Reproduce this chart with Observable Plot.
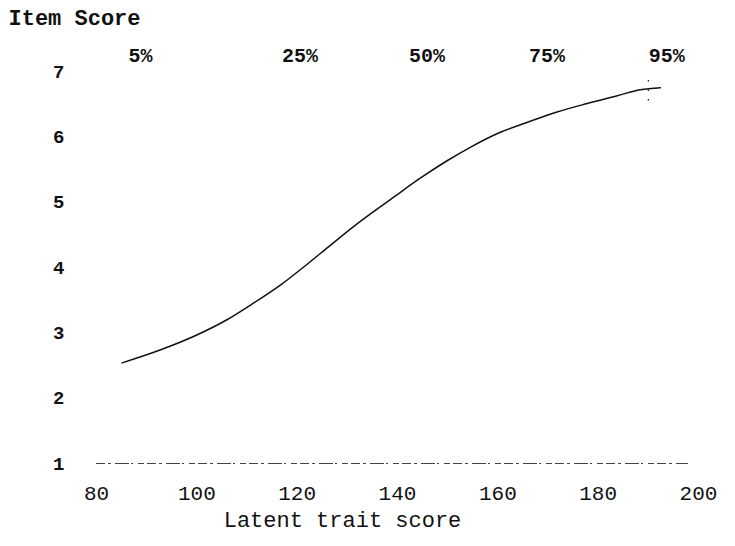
<!DOCTYPE html>
<html>
<head>
<meta charset="utf-8">
<script src="https://cdn.jsdelivr.net/npm/d3@7"></script>
<script src="https://cdn.jsdelivr.net/npm/@observablehq/plot@0.6"></script>
<style>
  html, body { margin: 0; padding: 0; background: #fff; }
  svg { display: block; }
</style>
</head>
<body>
<div id="chart"></div>
<script>
// Latent trait score (x) and expected item score (y)
const traitScores = [85.1, 92.8, 100.1, 106.0, 111.0, 117.0, 122.0, 126.3, 131.3, 135.5, 139.3, 144.6, 149.8, 154.5, 160.5, 165.8, 171.8, 177.8, 183.8, 188.4, 192.4];
const itemScores  = [2.54, 2.74, 2.97, 3.20, 3.44, 3.75, 4.05, 4.32, 4.63, 4.87, 5.08, 5.37, 5.63, 5.84, 6.07, 6.22, 6.38, 6.51, 6.63, 6.72, 6.75];

// Percentile markers along the latent trait scale
const percentileLabels = ["5%", "25%", "50%", "75%", "95%"];
const percentileValues = [86.4, 117.0, 142.3, 166.2, 190.1];

// Axis ticks
const xTicks = [80, 100, 120, 140, 160, 180, 200];
const yTicks = [1, 2, 3, 4, 5, 6, 7];

// Floor line and 95% marker
const floorScore = 1;
const floorRange = [80, 198];
const marker95 = {x: 190, y1: 6.55, y2: 6.95};

const curve = traitScores.map((x, i) => ({x, y: itemScores[i]}));
const pct = percentileLabels.map((label, i) => ({label, x: percentileValues[i]}));

const font = "'Liberation Mono', 'DejaVu Sans Mono', monospace";

const chart = Plot.plot({
  width: 735,
  height: 546,
  marginLeft: 96,
  marginRight: 37,
  marginTop: 71,
  marginBottom: 83,
  style: {fontFamily: font, background: "#fff", color: "#111"},
  x: {domain: [80, 200]},
  y: {domain: [1, 7]},
  marks: [
    Plot.axisY({
      ticks: yTicks,
      tickFormat: "d",
      tickSize: 0,
      tickPadding: 32,
      fontSize: 19,
      fontWeight: "bold",
      label: null
    }),
    Plot.axisX({
      ticks: xTicks,
      tickFormat: "d",
      tickSize: 0,
      tickPadding: 22,
      fontSize: 21,
      label: null
    }),
    Plot.ruleY([floorScore], {
      x1: floorRange[0], x2: floorRange[1],
      stroke: "#444", strokeWidth: 1,
      strokeDasharray: "9,3,3,4,14,2,2,5,6,3"
    }),
    Plot.ruleX([marker95], {
      x: "x", y1: "y1", y2: "y2",
      stroke: "#111", strokeWidth: 1.2, strokeDasharray: "1.5,8"
    }),
    Plot.line(curve, {
      x: "x", y: "y", curve: "monotone-x",
      stroke: "#111", strokeWidth: 1.5
    }),
    Plot.text(pct, {
      x: "x", text: "label", frameAnchor: "top",
      dy: -24, textAnchor: "start",
      fontSize: 20, fontWeight: "bold", fill: "#111"
    }),
    Plot.text(["Item Score"], {
      frameAnchor: "top-left", dx: -88, dy: -62, textAnchor: "start",
      fontSize: 22, fontWeight: "bold", fill: "#111"
    }),
    Plot.text(["Latent trait score"], {
      frameAnchor: "bottom", dx: -55, dy: 63,
      fontSize: 22, fill: "#111"
    })
  ]
});
document.getElementById("chart").appendChild(chart);
</script>
</body>
</html>
